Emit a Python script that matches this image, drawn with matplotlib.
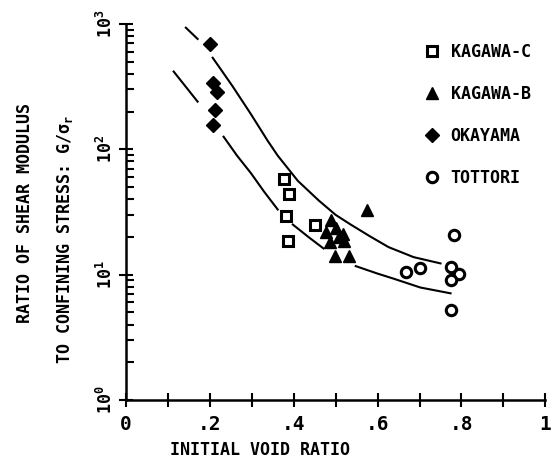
import numpy as np
import matplotlib
matplotlib.use('Agg')
import matplotlib.pyplot as plt
from matplotlib.lines import Line2D

# (x = initial void ratio, y = G / sigma)
kagawa_c_x = [0.376, 0.388, 0.381, 0.450, 0.386]
kagawa_c_y = [58, 44, 29.4, 24.9, 18.6]

kagawa_b_x = [0.576, 0.490, 0.502, 0.476, 0.509, 0.517, 0.519, 0.486, 0.498, 0.531]
kagawa_b_y = [32.8, 27.3, 23.6, 21.9, 20.0, 21.0, 18.6, 18.2, 14.1, 14.1]

okayama_x = [0.200, 0.207, 0.217, 0.212, 0.207]
okayama_y = [693, 339, 287, 206, 157]

tottori_x = [0.783, 0.776, 0.795, 0.774, 0.667, 0.700, 0.776]
tottori_y = [20.7, 11.5, 10.1, 9.1, 10.5, 11.3, 5.2]

# bounding curves, nan marks the breaks in the drawn line
upper_x = [0.143, 0.171, np.nan, 0.207, 0.230, 0.255, 0.298, 0.338, 0.362,
           0.410, 0.460, 0.500, 0.536, 0.580, 0.626, 0.686, 0.750]
upper_y = [933, 759, np.nan, 537, 417, 316, 191, 117, 89, 56, 39, 30, 25.1,
           20.4, 16.6, 13.8, 12.3]

lower_x = [0.114, 0.171, np.nan, 0.233, 0.265, 0.298, 0.330, 0.362, np.nan,
           0.398, 0.435, 0.471, np.nan, 0.548, 0.600, 0.638, 0.702, 0.774]
lower_y = [417, 240, np.nan, 126, 89, 64.6, 45.7, 33.1, np.nan, 25.1, 20.0,
           16.2, np.nan, 11.7, 10.2, 9.3, 7.9, 7.1]

x_tick_labels = ['0', '.2', '.4', '.6', '.8', '1']
y_tick_labels = [r'$\mathbf{10^{0}}$', r'$\mathbf{10^{1}}$',
                 r'$\mathbf{10^{2}}$', r'$\mathbf{10^{3}}$']

FONT = 'DejaVu Sans Mono'


def draw(ax):
    ax.plot(upper_x, upper_y, color='black', lw=1.5)
    ax.plot(lower_x, lower_y, color='black', lw=1.5)

    ax.plot(kagawa_c_x, kagawa_c_y, ls='none', marker='s', ms=7,
            mfc='white', mec='black', mew=2.2)
    ax.plot(kagawa_b_x, kagawa_b_y, ls='none', marker='^', ms=9,
            mfc='black', mec='black')
    ax.plot(okayama_x, okayama_y, ls='none', marker='D', ms=7.5,
            mfc='black', mec='black')
    ax.plot(tottori_x, tottori_y, ls='none', marker='o', ms=7.5,
            mfc='white', mec='black', mew=2.2)

    handles = [
        Line2D([], [], ls='none', marker='s', ms=7, mfc='white', mec='black', mew=2.2),
        Line2D([], [], ls='none', marker='^', ms=9, mfc='black', mec='black'),
        Line2D([], [], ls='none', marker='D', ms=7.5, mfc='black', mec='black'),
        Line2D([], [], ls='none', marker='o', ms=7.5, mfc='white', mec='black', mew=2.2),
    ]
    labels = ['KAGAWA-C', 'KAGAWA-B', 'OKAYAMA', 'TOTTORI']
    ax.legend(handles, labels, loc='upper left', bbox_to_anchor=(0.675, 0.99),
              frameon=False, handlelength=1.0, handletextpad=0.6,
              labelspacing=1.45,
              prop={'family': FONT, 'weight': 'bold', 'size': 12})


def style(ax):
    ax.set_yscale('log')
    ax.set_xlim(0, 1)
    ax.set_ylim(1, 1000)

    for side in ['top', 'right']:
        ax.spines[side].set_visible(False)
    for side in ['left', 'bottom']:
        ax.spines[side].set_linewidth(1.8)

    ax.set_xticks(np.arange(0, 1.01, 0.2))
    ax.set_xticks(np.arange(0.1, 1.0, 0.2), minor=True)
    ax.set_xticklabels(x_tick_labels, family=FONT, weight='bold', fontsize=14)
    ax.tick_params(axis='x', which='both', direction='inout', length=10,
                   width=1.5, pad=6)

    ax.set_yticks([1, 10, 100, 1000])
    ax.set_yticklabels(y_tick_labels, rotation=90, va='center', fontsize=12)
    ax.tick_params(axis='y', which='major', direction='inout', length=10,
                   width=1.5, pad=2)
    ax.tick_params(axis='y', which='minor', direction='in', length=6,
                   width=1.5)


def main():
    plt.rcParams['mathtext.fontset'] = 'custom'
    plt.rcParams['mathtext.bf'] = 'DejaVu Sans Mono:bold'
    plt.rcParams['mathtext.rm'] = 'DejaVu Sans Mono:bold'

    fig = plt.figure(figsize=(5.52, 4.69), dpi=100)
    ax = fig.add_axes([0.228, 0.147, 0.760, 0.802])
    draw(ax)
    style(ax)

    fig.text(0.471, 0.04, 'INITIAL VOID RATIO', ha='center', va='center',
             family=FONT, weight='bold', fontsize=12)
    fig.text(0.045, 0.545, 'RATIO OF SHEAR MODULUS', rotation=90,
             ha='center', va='center', family=FONT, weight='bold', fontsize=12)
    fig.text(0.118, 0.49, r'TO CONFINING STRESS: G/$\mathbf{\sigma_r}$',
             rotation=90, ha='center', va='center', family=FONT,
             weight='bold', fontsize=12)

    fig.savefig('out.png', dpi=100)


if __name__ == '__main__':
    main()
